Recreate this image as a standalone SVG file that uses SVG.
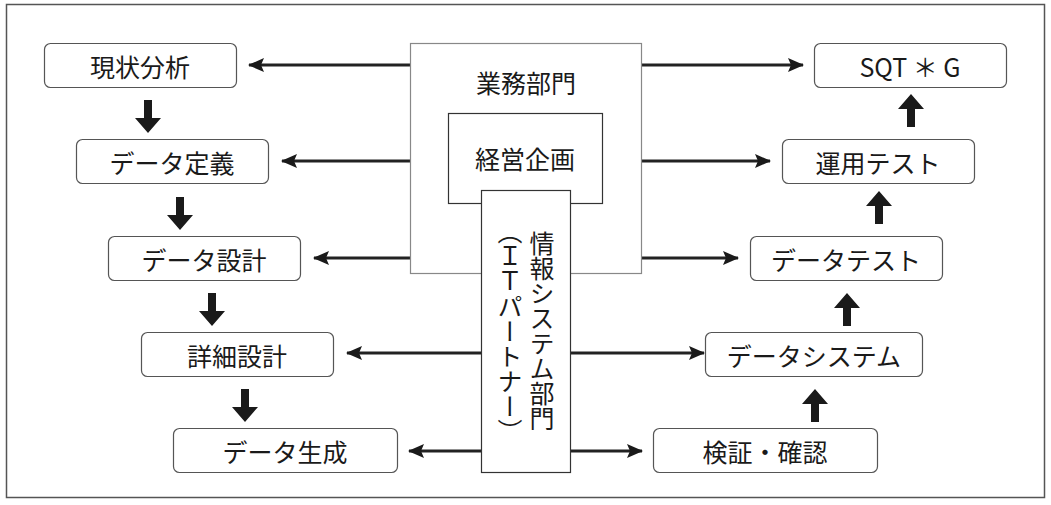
<svg xmlns="http://www.w3.org/2000/svg" width="1051" height="505" viewBox="0 0 1051 505">
<style>
text{font-family:"Noto Sans CJK JP","Noto Sans",sans-serif;font-size:25px;fill:#1a1a1a;text-anchor:middle;dominant-baseline:central}
.box{fill:#fff;stroke:#555;stroke-width:1.2}
.sq{fill:#fff}
.conn{stroke:#222;stroke-width:2.8;fill:none}
.fat{fill:#1a1a1a}
.vt{writing-mode:vertical-rl;text-anchor:middle;dominant-baseline:central}
</style>
<defs>
<marker id="ah" viewBox="0 0 16 14" refX="15" refY="7" markerWidth="16" markerHeight="14" markerUnits="userSpaceOnUse" orient="auto">
<path d="M0,0 L16,7 L0,14 L3,7 Z" fill="#1a1a1a"/>
</marker>
<path id="down" d="M-4,0 H4 V18 H13 L0,33 L-13,18 H-4 Z"/>
<path id="up" d="M-4,33 H4 V15 H13 L0,0 L-13,15 H-4 Z"/>
</defs>
<rect x="6.5" y="4.5" width="1038" height="493" fill="#fff" stroke="#555" stroke-width="1.5"/>

<g id="connectors">
<line class="conn" x1="410" y1="65" x2="249" y2="65" marker-end="url(#ah)"/>
<line class="conn" x1="410" y1="161" x2="282" y2="161" marker-end="url(#ah)"/>
<line class="conn" x1="410" y1="258" x2="314" y2="258" marker-end="url(#ah)"/>
<line class="conn" x1="481" y1="353" x2="347" y2="353" marker-end="url(#ah)"/>
<line class="conn" x1="481" y1="451" x2="409" y2="451" marker-end="url(#ah)"/>
<line class="conn" x1="641" y1="65" x2="803" y2="65" marker-end="url(#ah)"/>
<line class="conn" x1="641" y1="161" x2="770" y2="161" marker-end="url(#ah)"/>
<line class="conn" x1="641" y1="258" x2="738" y2="258" marker-end="url(#ah)"/>
<line class="conn" x1="570" y1="353" x2="704" y2="353" marker-end="url(#ah)"/>
<line class="conn" x1="570" y1="451" x2="642" y2="451" marker-end="url(#ah)"/>
<use href="#down" class="fat" x="148" y="100"/>
<use href="#down" class="fat" x="180" y="197"/>
<use href="#down" class="fat" x="212" y="293"/>
<use href="#down" class="fat" x="245" y="389"/>
<use href="#up" class="fat" x="911" y="94"/>
<use href="#up" class="fat" x="879" y="191"/>
<use href="#up" class="fat" x="847" y="293"/>
<use href="#up" class="fat" x="815" y="389"/>
</g>

<g id="gyomu">
<rect class="sq" x="410.5" y="43.5" width="231" height="230" stroke="#888" stroke-width="1.2"/>
<text x="526" y="82">業務部門</text>
</g>
<g id="keiei">
<rect class="sq" x="448.5" y="113.5" width="154" height="90" stroke="#333" stroke-width="1.2"/>
<text x="525" y="158">経営企画</text>
</g>
<g id="joho">
<rect class="sq" x="481.5" y="190.5" width="89" height="282" stroke="#333" stroke-width="1.2"/>
<text class="vt" x="542" y="331">情報システム部門</text>
<text class="vt" x="510" y="331">（ＩＴパートナー）</text>
</g>

<g id="n1"><rect class="box" x="44.5" y="43.5" width="192" height="44" rx="6"/><text x="140" y="66">現状分析</text></g>
<g id="n2"><rect class="box" x="76.5" y="139.5" width="192" height="44" rx="6"/><text x="172" y="162">データ定義</text></g>
<g id="n3"><rect class="box" x="108.5" y="236.5" width="192" height="44" rx="6"/><text x="204" y="259">データ設計</text></g>
<g id="n4"><rect class="box" x="141.5" y="332.5" width="192" height="44" rx="6"/><text x="237" y="355">詳細設計</text></g>
<g id="n5"><rect class="box" x="173.5" y="428.5" width="224" height="44" rx="6"/><text x="285" y="451">データ生成</text></g>

<g id="m1"><rect class="box" x="814.5" y="43.5" width="192" height="44" rx="6"/><text x="910" y="66">SQT ＊ G</text></g>
<g id="m2"><rect class="box" x="782.5" y="139.5" width="192" height="44" rx="6"/><text x="878" y="162">運用テスト</text></g>
<g id="m3"><rect class="box" x="750.5" y="236.5" width="192" height="44" rx="6"/><text x="846" y="259">データテスト</text></g>
<g id="m4"><rect class="box" x="705.5" y="332.5" width="217" height="44" rx="6"/><text x="814" y="355">データシステム</text></g>
<g id="m5"><rect class="box" x="653.5" y="428.5" width="224" height="44" rx="6"/><text x="765" y="451">検証・確認</text></g>
</svg>
